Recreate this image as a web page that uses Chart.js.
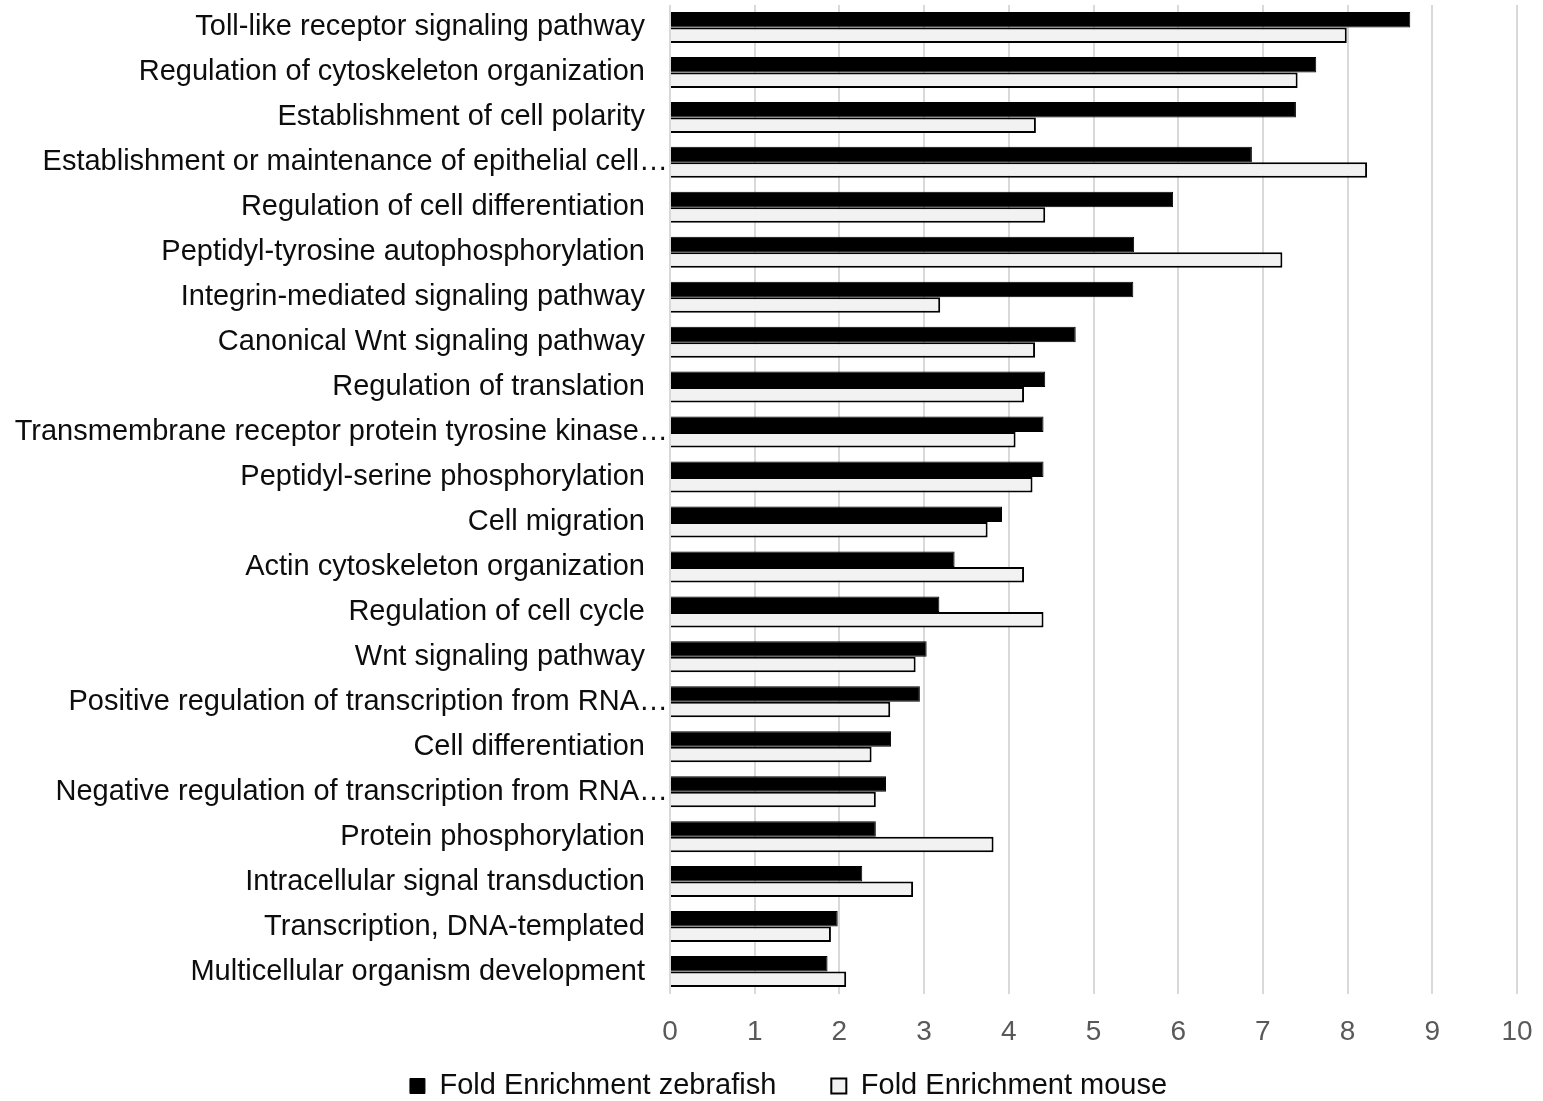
<!DOCTYPE html>
<html>
<head>
<meta charset="utf-8">
<script src="https://cdn.jsdelivr.net/npm/chart.js@4.4.1/dist/chart.umd.min.js"></script>
<style>
  html, body { margin: 0; padding: 0; background: #fff; }
  #wrap { width: 1543px; height: 1101px; position: relative; }
</style>
</head>
<body>
<div id="wrap"><canvas id="myChart"></canvas></div>
<script>
// categories, top to bottom as in the figure
const labels = [
  'Toll-like receptor signaling pathway',
  'Regulation of cytoskeleton organization',
  'Establishment of cell polarity',
  'Establishment or maintenance of epithelial cell\u2026',
  'Regulation of cell differentiation',
  'Peptidyl-tyrosine autophosphorylation',
  'Integrin-mediated signaling pathway',
  'Canonical Wnt signaling pathway',
  'Regulation of translation',
  'Transmembrane receptor protein tyrosine kinase\u2026',
  'Peptidyl-serine phosphorylation',
  'Cell migration',
  'Actin cytoskeleton organization',
  'Regulation of cell cycle',
  'Wnt signaling pathway',
  'Positive regulation of transcription from RNA\u2026',
  'Cell differentiation',
  'Negative regulation of transcription from RNA\u2026',
  'Protein phosphorylation',
  'Intracellular signal transduction',
  'Transcription, DNA-templated',
  'Multicellular organism development'
];

const zebrafish = [8.74, 7.63, 7.39, 6.87, 5.94, 5.48, 5.47, 4.79, 4.43, 4.41, 4.41,
                   3.92, 3.36, 3.18, 3.03, 2.95, 2.61, 2.55, 2.43, 2.27, 1.98, 1.86];
const mouse     = [7.99, 7.41, 4.32, 8.23, 4.43, 7.23, 3.19, 4.31, 4.18, 4.08, 4.28,
                   3.75, 4.18, 4.41, 2.90, 2.60, 2.38, 2.43, 3.82, 2.87, 1.90, 2.08];

const seriesNames = ['Fold Enrichment zebrafish', 'Fold Enrichment mouse'];
const xMin = 0;
const xMax = 10;

const FONT = '"Liberation Sans", Arial, sans-serif';

// the legend sits closer to the tick labels and a bit right of centre in the original
const nudgeLegend = {
    id: 'nudgeLegend',
    afterLayout(chart) {
        const lg = chart.legend;
        if (!lg) return;
        lg.left += 60;
        lg.top -= 29.5;
    }
};

// truncated labels run their ellipsis right up to the axis, like Excel does
const ellipsisLabels = {
    id: 'ellipsisLabels',
    beforeDraw(chart) {
        const scale = chart.scales.y;
        if (!scale || !scale.getLabelItems) return;
        scale.getLabelItems().forEach((item) => {
            const txt = String(item.label);
            if (txt.endsWith('\u2026') && !item._moved && item.options && item.options.translation) {
                item.options.translation[0] += 23;
                item._moved = true;
            }
        });
    }
};

const ctx = document.getElementById('myChart');
new Chart(ctx, {
    type: 'bar',
    data: {
        labels: labels,
        datasets: [{
            label: seriesNames[0],
            data: zebrafish,
            backgroundColor: '#000000',
            borderColor: '#000000',
            borderWidth: 1,
            categoryPercentage: 0.69,
            barPercentage: 1.0
        }, {
            label: seriesNames[1],
            data: mouse,
            backgroundColor: '#f2f2f2',
            borderColor: '#000000',
            borderWidth: 2,
            categoryPercentage: 0.69,
            barPercentage: 1.0
        }]
    },
    plugins: [nudgeLegend, ellipsisLabels],
    options: {
        indexAxis: 'y',
        responsive: true,
        maintainAspectRatio: false,
        animation: false,
        layout: {
            padding: { top: 5, right: 26, left: 0, bottom: 0 }
        },
        scales: {
            x: {
                min: xMin,
                max: xMax,
                ticks: {
                    stepSize: 1,
                    color: '#595959',
                    font: { family: FONT, size: 28 },
                    padding: 21
                },
                grid: {
                    color: '#d9d9d9',
                    lineWidth: 2,
                    drawTicks: false
                },
                border: { display: false },
                afterFit: (scale) => {
                    scale.paddingLeft = 0;
                    scale.paddingRight = 0;
                    scale.height = 52;
                }
            },
            y: {
                ticks: {
                    color: '#0d0d0d',
                    font: { family: FONT, size: 29 },
                    padding: 25,
                    autoSkip: false
                },
                grid: { display: false, drawTicks: false },
                border: { display: false },
                afterFit: (scale) => {
                    scale.width = 670; // plot starts at the same place as the figure
                    scale.paddingTop = 0;
                    scale.paddingBottom = 0;
                }
            }
        },
        plugins: {
            legend: {
                position: 'bottom',
                maxHeight: 55,
                labels: {
                    color: '#0d0d0d',
                    font: { family: FONT, size: 29 },
                    boxWidth: 15,
                    boxHeight: 15,
                    padding: 55
                }
            },
            tooltip: { enabled: false }
        }
    }
});
</script>
</body>
</html>
